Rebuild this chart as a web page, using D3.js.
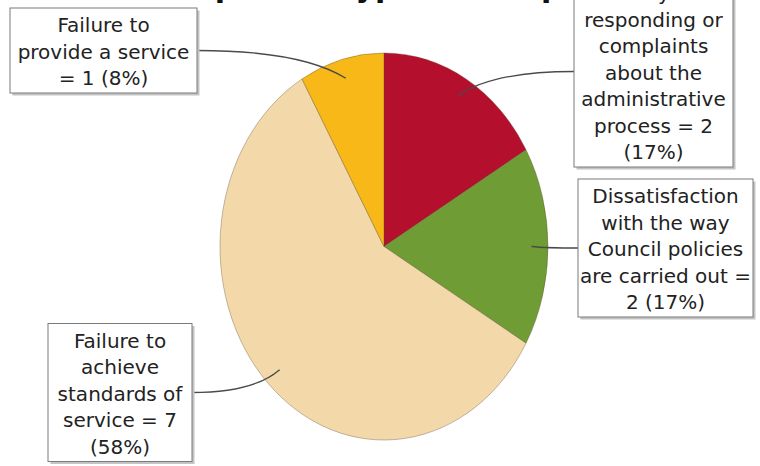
<!DOCTYPE html>
<html>
<head>
<meta charset="utf-8">
<script src="https://cdn.jsdelivr.net/npm/d3@7"></script>
<style>
  html, body { margin: 0; padding: 0; background: #fff; }
  svg { display: block; }
</style>
</head>
<body>
<svg id="chart" width="760" height="466"></svg>
<script>
// Data
const title = "Complaints type of complaint"
const categories = [
  "Delay in responding or complaints about the administrative process",
  "Dissatisfaction with the way Council policies are carried out",
  "Failure to achieve standards of service",
  "Failure to provide a service"
]
const counts = [2, 2, 7, 1]
const colors = ["#b4102e", "#6f9c34", "#f3d9aa", "#f8b818"]

// Layout
const cx = 384, cy = 246.5
const rx = 164, ry = 193.5
const fontSize = 20
const lineHeight = 26.5
// callout boxes: left x, width, vertical centre, wrap widths per line, side the line leaves from
const boxes = [
  { x: 574, w: 159, cy: 71.5, wrap: [150], side: "left" },
  { x: 578, w: 175, cy: 248, wrap: [174], side: "left" },
  { x: 48, w: 144, cy: 392.5, wrap: [132], side: "right" },
  { x: 10, w: 187, cy: 50.5, wrap: [130, 178], side: "right" }
]

const svg = d3.select("#chart")
const total = d3.sum(counts)
const data = categories.map((c, i) => ({ name: c, value: counts[i], color: colors[i] }))

// Title (sits mostly above the visible area, as in the source)
svg.append("text")
  .attr("x", 390)
  .attr("y", -3.5)
  .attr("text-anchor", "middle")
  .style("font-family", "'DejaVu Sans', Verdana, sans-serif")
  .style("font-weight", "bold")
  .style("font-size", "30px")
  .style("fill", "#111")
  .text(title)

// Pie
const pie = d3.pie().sort(null).value(d => d.value)
const arcs = pie(data)
const arc = d3.arc().innerRadius(0).outerRadius(ry)
const anchorArc = d3.arc().innerRadius(ry * 0.9).outerRadius(ry * 0.9)
const sx = rx / ry

const pieG = svg.append("g")
  .attr("transform", `translate(${cx},${cy}) scale(${sx},1)`)

pieG.selectAll("path.slice")
  .data(arcs)
  .enter()
  .append("path")
  .attr("class", "slice")
  .attr("d", arc)
  .attr("fill", d => d.data.color)
  .attr("stroke", "rgba(90,70,40,0.35)")
  .attr("stroke-width", 1)
  .attr("vector-effect", "non-scaling-stroke")

// Connectors
const lineG = svg.append("g")
const labelG = svg.append("g")

arcs.forEach((a, i) => {
  const b = boxes[i]
  const c = anchorArc.centroid(a)
  const x1 = cx + c[0] * sx
  const y1 = cy + c[1]
  const x0 = b.side === "left" ? b.x : b.x + b.w
  const y0 = b.cy
  const qx = x0 + (x1 - x0) * 0.7
  lineG.append("path")
    .attr("d", `M${x0},${y0} Q${qx},${y0} ${x1},${y1}`)
    .attr("fill", "none")
    .attr("stroke", "#4a4a4a")
    .attr("stroke-width", 1.3)
})

// Labels
arcs.forEach((a, i) => {
  const b = boxes[i]
  const pct = Math.round(a.data.value / total * 100)
  const label = `${a.data.name} = ${a.data.value} (${pct}%)`

  const g = labelG.append("g")
  const shadow = g.append("rect")
  const rect = g.append("rect")
  const text = g.append("text")
    .attr("text-anchor", "middle")
    .style("font-family", "'DejaVu Sans', Verdana, sans-serif")
    .style("font-size", fontSize + "px")
    .style("fill", "#222")

  // greedy word wrap (last wrap width repeats)
  const maxW = k => b.wrap[Math.min(k, b.wrap.length - 1)]
  const words = label.split(/\s+/)
  const lines = []
  let line = []
  const probe = text.append("tspan")
  words.forEach(w => {
    line.push(w)
    probe.text(line.join(" "))
    if (probe.node().getComputedTextLength() > maxW(lines.length) && line.length > 1) {
      line.pop()
      lines.push(line.join(" "))
      line = [w]
    }
  })
  lines.push(line.join(" "))
  probe.remove()

  const h = (lines.length - 1) * lineHeight + 32
  const top = b.cy - h / 2

  shadow
    .attr("x", b.x + 2.5).attr("y", top + 2.5)
    .attr("width", b.w).attr("height", h)
    .attr("fill", "#c4c4c4")
  rect
    .attr("x", b.x).attr("y", top)
    .attr("width", b.w).attr("height", h)
    .attr("fill", "#fff")
    .attr("stroke", "#7a7a7a")
    .attr("stroke-width", 1)

  lines.forEach((t, k) => {
    text.append("tspan")
      .attr("x", b.x + b.w / 2)
      .attr("y", top + 17 + k * lineHeight)
      .attr("dy", "0.35em")
      .text(t)
  })
})
</script>
</body>
</html>
